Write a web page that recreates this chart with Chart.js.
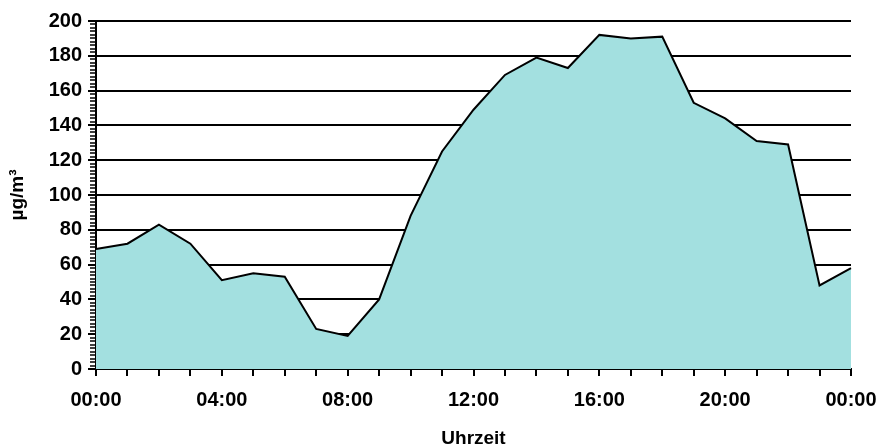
<!DOCTYPE html>
<html>
<head>
<meta charset="utf-8">
<script src="https://cdn.jsdelivr.net/npm/chart.js@4/dist/chart.umd.min.js"></script>
<style>
    html, body { margin: 0; padding: 0; background: #ffffff; }
    #wrap { width: 880px; height: 448px; }
</style>
</head>
<body>
<div id="wrap"><canvas id="chart" width="880" height="448"></canvas></div>
<script>
const hours = [
    "00:00", "01:00", "02:00", "03:00", "04:00", "05:00", "06:00", "07:00", "08:00",
    "09:00", "10:00", "11:00", "12:00", "13:00", "14:00", "15:00", "16:00",
    "17:00", "18:00", "19:00", "20:00", "21:00", "22:00", "23:00", "00:00"
];
const concentration = [
    69, 72, 83, 72, 51, 55, 53, 23, 19, 40, 88, 125, 149,
    169, 179, 173, 192, 190, 191, 153, 144, 131, 129, 48, 58
];
const yTicks = [0, 20, 40, 60, 80, 100, 120, 140, 160, 180, 200];

const font = { family: "'Liberation Sans', Arial, sans-serif", size: 20, weight: "bold" };

// small ticks on the y axis every 2 units
const minorTicks = {
    id: "minorTicks",
    afterDraw(chart) {
        const y = chart.scales.y;
        const x0 = chart.chartArea.left;
        const ctx = chart.ctx;
        ctx.save();
        ctx.strokeStyle = "#000";
        ctx.lineWidth = 1.5;
        ctx.beginPath();
        for (let v = 0; v <= 200; v += 2) {
            if (v % 20 === 0) continue;
            const py = Math.round(y.getPixelForValue(v));
            ctx.moveTo(x0 - 6, py);
            ctx.lineTo(x0, py);
        }
        ctx.stroke();
        ctx.restore();
    }
};

new Chart(document.getElementById("chart").getContext("2d"), {
    type: "line",
    data: {
        labels: hours,
        datasets: [{
            data: concentration,
            fill: "origin",
            backgroundColor: "#a3e0e0",
            borderColor: "#000000",
            borderWidth: 2,
            tension: 0,
            pointRadius: 0
        }]
    },
    options: {
        responsive: false,
        animation: false,
        layout: { padding: { left: 0, right: 29, top: 21, bottom: 0 } },
        plugins: { legend: { display: false }, tooltip: { enabled: false } },
        scales: {
            x: {
                offset: false,
                border: { color: "#000", width: 2 },
                grid: { drawOnChartArea: false, color: "#000", lineWidth: 2, tickLength: 7 },
                ticks: {
                    color: "#000",
                    font: font,
                    autoSkip: false,
                    maxRotation: 0,
                    padding: 12,
                    callback: (v, i) => (i % 4 === 0 ? hours[i] : "")
                },
                title: { display: true, text: "Uhrzeit", color: "#000", font: { ...font, size: 19 }, padding: { top: 0, bottom: -2 } },
                afterFit: (s) => {
                    s.height = 79;
                    s.paddingLeft = 0;
                    s.paddingRight = 0;
                }
            },
            y: {
                min: 0,
                max: 200,
                afterBuildTicks: (s) => { s.ticks = yTicks.map((v) => ({ value: v })); },
                border: { color: "#000", width: 2 },
                grid: { color: "#000", lineWidth: 2, tickLength: 8 },
                ticks: { color: "#000", font: font, padding: 6 },
                title: { display: true, text: "µg/m³", color: "#000", font: { ...font, size: 19 }, padding: { top: 6, bottom: 0 } },
                afterFit: (s) => { s.width = 96; }
            }
        }
    },
    plugins: [minorTicks]
});
</script>
</body>
</html>
